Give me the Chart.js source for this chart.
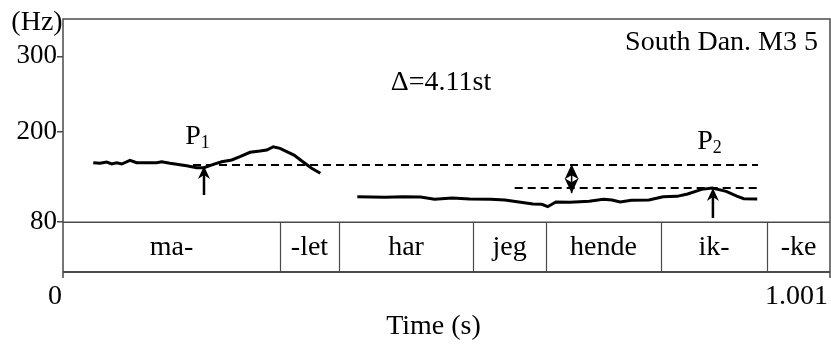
<!DOCTYPE html>
<html>
<head>
<meta charset="utf-8">
<script src="https://cdn.jsdelivr.net/npm/chart.js@4.4.1/dist/chart.umd.min.js"></script>
<style>
  body { margin: 0; background: #fff; }
  canvas { display: block; }
</style>
</head>
<body>
<canvas id="f0Chart" width="831" height="345"></canvas>
<script>
// F0 contour, part 1 (ma-let), time in s, F0 in Hz
const contour1Time = [0.0395, 0.0483, 0.0570, 0.0636, 0.0701, 0.0766, 0.0874, 0.0962, 0.1223, 0.1288,
  0.1396, 0.1614, 0.1745, 0.1840, 0.1962, 0.2071, 0.2202, 0.2310, 0.2441, 0.2571,
  0.2659, 0.2745, 0.2832, 0.3015, 0.3130, 0.3245, 0.3359];
const contour1Hz = [158.9, 158.1, 159.8, 157.2, 158.9, 157.2, 162.1, 158.9, 158.9, 160.2,
  158.1, 154.9, 152.3, 152.3, 156.8, 160.2, 162.5, 166.9, 172.7, 174.4,
  175.8, 180.1, 178.0, 169.1, 160.2, 151.5, 144.9];

// F0 contour, part 2 (har jeg hende ikke)
const contour2Time = [0.3841, 0.4208, 0.4437, 0.4666, 0.4850, 0.5079, 0.5308, 0.5583, 0.5767, 0.5950,
  0.6134, 0.6249, 0.6326, 0.6432, 0.6616, 0.6867, 0.7051, 0.7165, 0.7271, 0.7418,
  0.7647, 0.7831, 0.8013, 0.8152, 0.8334, 0.8473, 0.8656, 0.8794, 0.8885, 0.9060];
const contour2Hz = [113.8, 113.0, 113.8, 113.4, 110.4, 112.1, 110.8, 110.4, 109.4, 106.8,
  104.1, 103.7, 100.6, 106.8, 106.4, 107.7, 110.4, 109.4, 106.8, 109.0,
  109.4, 113.8, 114.3, 117.4, 123.6, 125.4, 121.0, 114.7, 111.2, 110.8];

// reference levels (dashed)
const p1Level = 155.9;
const p1LevelTime = [0.1697, 0.9070];
const p2Level = 125.4;
const p2LevelTime = [0.5895, 0.9070];

// peak arrows: time, tail Hz, tip Hz
const p1Arrow = [0.1840, 116.1, 154.5];
const p2Arrow = [0.8482, 85.6, 125.4];
const deltaArrow = [0.6638, 118.5, 157.0];

// segmentation tier
const tierBounds = [0, 0.2832, 0.3602, 0.5351, 0.6304, 0.7805, 0.9188, 1.001];
const tierLabels = ['ma-', '-let', 'har', 'jeg', 'hende', 'ik-', '-ke'];

const yTicks = [80, 200, 300];
const xRange = [0, 1.001];
const yRange = [14, 349.5];

const FONT = '"Liberation Serif", "Times New Roman", serif';

function pts(ts, vs) {
  return ts.map((t, i) => ({ x: t, y: vs[i] }));
}

function arrowHead(ctx, x, y, dir, hw, len) {
  // dir: -1 pointing up, 1 pointing down
  ctx.beginPath();
  ctx.moveTo(x, y);
  ctx.lineTo(x - hw, y - dir * len);
  ctx.lineTo(x, y - dir * (len - 4));
  ctx.lineTo(x + hw, y - dir * len);
  ctx.closePath();
  ctx.fill();
}

const decor = {
  id: 'decor',
  beforeDatasetsDraw(chart) {
    const ctx = chart.ctx;
    const xs = chart.scales.x, ys = chart.scales.y;
    const a = chart.chartArea;
    const y80 = ys.getPixelForValue(80);
    ctx.save();
    ctx.strokeStyle = '#4a4a4a';
    ctx.lineWidth = 1.5;
    // frame
    ctx.beginPath();
    ctx.moveTo(a.left, a.bottom + 6);
    ctx.lineTo(a.left, a.top);
    ctx.lineTo(a.right, a.top);
    ctx.lineTo(a.right, a.bottom + 6);
    ctx.moveTo(a.left, y80);
    ctx.lineTo(a.right, y80);
    ctx.stroke();
    ctx.lineWidth = 2;
    ctx.beginPath();
    ctx.moveTo(a.left, a.bottom);
    ctx.lineTo(a.right, a.bottom);
    ctx.stroke();
    // tier boundaries and labels
    ctx.lineWidth = 1.2;
    ctx.fillStyle = '#000';
    ctx.font = '28px ' + FONT;
    ctx.textAlign = 'center';
    ctx.textBaseline = 'middle';
    for (let i = 0; i < tierLabels.length; i++) {
      const x0 = xs.getPixelForValue(tierBounds[i]);
      const x1 = xs.getPixelForValue(tierBounds[i + 1]);
      if (i > 0) {
        ctx.beginPath();
        ctx.moveTo(Math.round(x0) + 0.5, y80);
        ctx.lineTo(Math.round(x0) + 0.5, a.bottom);
        ctx.stroke();
      }
      ctx.fillText(tierLabels[i], (x0 + x1) / 2, (y80 + a.bottom) / 2 + 1);
    }
    ctx.restore();
  },
  afterDatasetsDraw(chart) {
    const ctx = chart.ctx;
    const xs = chart.scales.x, ys = chart.scales.y;
    const a = chart.chartArea;
    ctx.save();
    ctx.fillStyle = '#000';
    ctx.strokeStyle = '#000';
    ctx.lineWidth = 2.5;
    // single arrows
    [p1Arrow, p2Arrow].forEach(ar => {
      const x = xs.getPixelForValue(ar[0]);
      const y0 = ys.getPixelForValue(ar[1]);
      const y1 = ys.getPixelForValue(ar[2]);
      ctx.beginPath();
      ctx.moveTo(x, y0);
      ctx.lineTo(x, y1 + 8);
      ctx.stroke();
      arrowHead(ctx, x, y1, -1, 6, 13);
    });
    // double arrow
    const dx = xs.getPixelForValue(deltaArrow[0]);
    const dy0 = ys.getPixelForValue(deltaArrow[1]);
    const dy1 = ys.getPixelForValue(deltaArrow[2]);
    ctx.lineWidth = 1.5;
    ctx.beginPath();
    ctx.moveTo(dx, dy0);
    ctx.lineTo(dx, dy1);
    ctx.stroke();
    arrowHead(ctx, dx, dy1, -1, 7, 15);
    arrowHead(ctx, dx, dy0, 1, 7, 15);

    // texts
    ctx.textBaseline = 'middle';
    const pLabel = (x, y, sub) => {
      ctx.font = '28px ' + FONT;
      const w = ctx.measureText('P').width;
      ctx.textAlign = 'left';
      ctx.fillText('P', x - w / 2 - 5, y);
      ctx.font = '18px ' + FONT;
      ctx.fillText(sub, x + w / 2 - 5, y + 6);
    };
    pLabel(xs.getPixelForValue(0.1762), ys.getPixelForValue(193), '1');
    pLabel(xs.getPixelForValue(0.8443), ys.getPixelForValue(186.4), '2');
    ctx.font = '28px ' + FONT;
    ctx.textAlign = 'center';
    ctx.fillText('\u0394=4.11st', xs.getPixelForValue(0.4933), ys.getPixelForValue(264.6));
    ctx.textAlign = 'right';
    ctx.fillText('South Dan. M3 5', a.right - 12, a.top + 24);
    // axis labels
    ctx.textAlign = 'center';
    ctx.fillText('(Hz)', 37, a.top + 4);
    ctx.fillText('0', a.left - 8, a.bottom + 25);
    ctx.textAlign = 'right';
    ctx.fillText(String(xRange[1]), a.right - 2, a.bottom + 25);
    ctx.textAlign = 'center';
    ctx.fillText('Time (s)', (a.left + a.right) / 2 - 13, a.bottom + 55);
    ctx.restore();
  }
};

const ctx = document.getElementById('f0Chart').getContext('2d');
const f0Chart = new Chart(ctx, {
  type: 'scatter',
  data: {
    datasets: [
      { data: pts(contour1Time, contour1Hz), showLine: true, borderColor: '#000', borderWidth: 3, pointRadius: 0 },
      { data: pts(contour2Time, contour2Hz), showLine: true, borderColor: '#000', borderWidth: 3, pointRadius: 0 },
      { data: pts(p1LevelTime, [p1Level, p1Level]), showLine: true, borderColor: '#000', borderWidth: 2, borderDash: [8, 5], pointRadius: 0 },
      { data: pts(p2LevelTime, [p2Level, p2Level]), showLine: true, borderColor: '#000', borderWidth: 2, borderDash: [8, 5], pointRadius: 0 }
    ]
  },
  options: {
    responsive: false,
    animation: false,
    devicePixelRatio: 1,
    layout: { padding: { left: 0, top: 19, right: 1, bottom: 73 } },
    plugins: { legend: { display: false }, tooltip: { enabled: false } },
    scales: {
      x: { type: 'linear', min: xRange[0], max: xRange[1], display: false },
      y: {
        type: 'linear', min: yRange[0], max: yRange[1],
        afterBuildTicks: scale => { scale.ticks = yTicks.map(v => ({ value: v })); },
        afterFit: scale => { scale.width = 63; },
        border: { display: false },
        grid: { drawOnChartArea: false, drawTicks: true, tickLength: 6, color: '#4a4a4a', lineWidth: 1.5 },
        ticks: { color: '#000', padding: 0, font: { family: FONT, size: 27 } }
      }
    }
  },
  plugins: [decor]
});
</script>
</body>
</html>
